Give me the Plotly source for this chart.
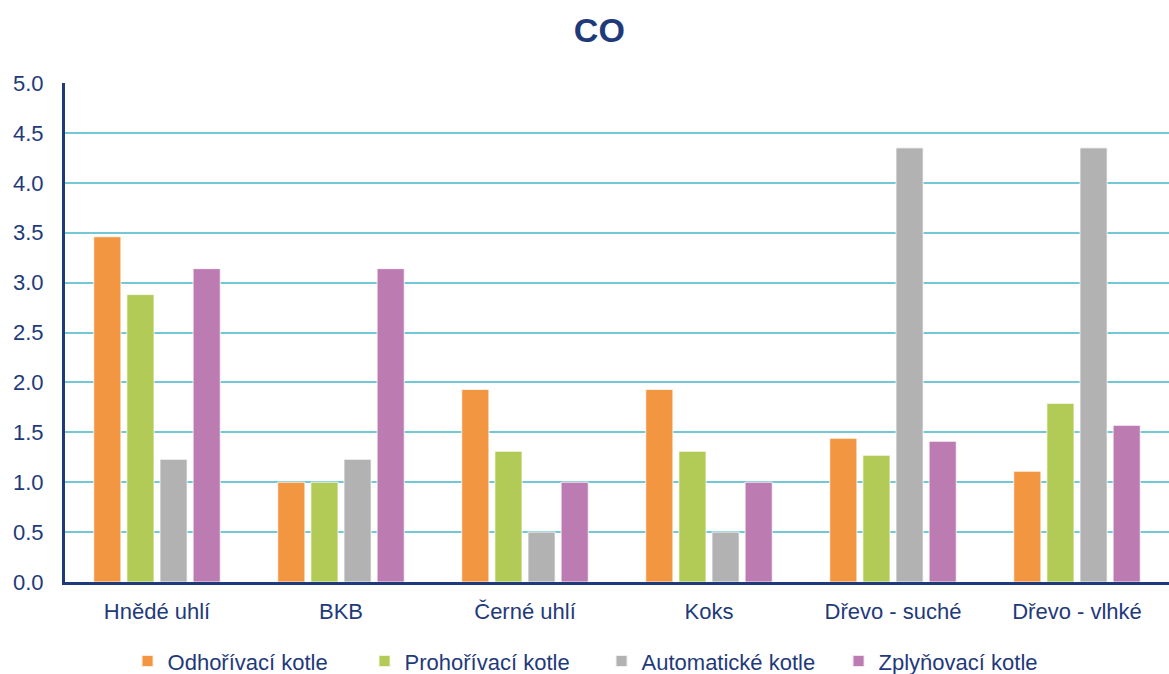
import plotly.graph_objects as go

categories = ["Hnědé uhlí", "BKB", "Černé uhlí", "Koks", "Dřevo - suché", "Dřevo - vlhké"]
series_names = ["Odhořívací kotle", "Prohořívací kotle", "Automatické kotle", "Zplyňovací kotle"]
odhorivaci = [3.46, 1.0, 1.93, 1.93, 1.44, 1.11]
prohorivaci = [2.88, 1.0, 1.31, 1.31, 1.27, 1.79]
automaticke = [1.23, 1.23, 0.5, 0.5, 4.35, 4.35]
zplynovaci = [3.14, 3.14, 1.0, 1.0, 1.41, 1.57]
colors = ["#F39642", "#B1CB56", "#B2B2B2", "#BC7CB2"]
tick_vals = [0, 0.5, 1, 1.5, 2, 2.5, 3, 3.5, 4, 4.5, 5]
tick_text = ["0.0", "0.5", "1.0", "1.5", "2.0", "2.5", "3.0", "3.5", "4.0", "4.5", "5.0"]

navy = "#1F3A7A"
font_family = "Liberation Sans, Arial, sans-serif"

fig = go.Figure()
for name, vals, col in zip(series_names, [odhorivaci, prohorivaci, automaticke, zplynovaci], colors):
    fig.add_trace(go.Bar(x=categories, y=vals, name=name,
                         marker=dict(color=col, line=dict(color="rgba(255,255,255,0.8)", width=1))))

fig.update_layout(
    width=1169, height=674,
    margin=dict(l=65, r=0, t=83, b=92, autoexpand=False),
    paper_bgcolor="white", plot_bgcolor="white",
    barmode="group", bargap=0.28, bargroupgap=0.18,
    font=dict(family=font_family, color=navy, size=22),
    title=dict(text="<b>CO</b>", x=0.484, xref="paper", xanchor="center",
               y=0.955, yref="container", yanchor="middle",
               font=dict(size=34, color=navy, family=font_family)),
    legend=dict(orientation="h", x=0.486, xanchor="center",
                yref="container", y=0.019, yanchor="middle",
                entrywidth=192, entrywidthmode="pixels",
                font=dict(size=22, color=navy), itemsizing="constant"),
    yaxis=dict(range=[0, 5], tickvals=tick_vals, ticktext=tick_text,
               showgrid=True, gridcolor="#74C8D5", gridwidth=2,
               showline=True, linecolor=navy, linewidth=3,
               zeroline=False, ticklabelstandoff=14,
               tickfont=dict(size=22, color=navy)),
    xaxis=dict(showline=True, linecolor=navy, linewidth=3,
               showgrid=False, ticklabelstandoff=8,
               tickfont=dict(size=22, color=navy)),
)

fig.write_html("out.html")
